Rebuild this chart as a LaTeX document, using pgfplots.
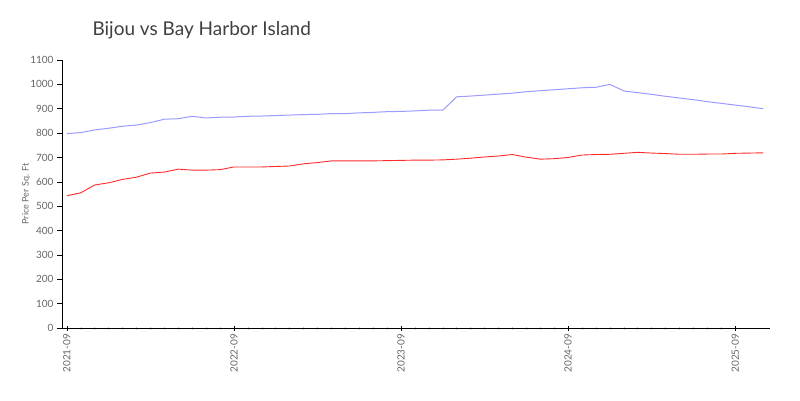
\documentclass[border=0pt]{standalone}
\usepackage{pgfplots}
\pgfplotsset{compat=1.18}
\usepackage{fontspec}
\setmainfont{Lato}
\definecolor{bluel}{HTML}{9A9AFF}
\definecolor{redl}{HTML}{FF2A2A}
\definecolor{tickgray}{HTML}{666666}
\begin{document}
\begin{tikzpicture}
\path[use as bounding box] (0pt,0pt) rectangle (800pt,400pt);
\node[anchor=west,font=\fontsize{19}{23}\selectfont,text=black!75] at (89pt,370pt) {Bijou vs Bay Harbor Island};
\begin{axis}[
  at={(62pt,72pt)}, anchor=south west,
  scale only axis, width=708pt, height=268pt,
  xmin=-0.35, xmax=50.5, ymin=0, ymax=1100,
  axis lines=left, axis line style={-, black, line width=0.8pt},
  ytick={0,100,...,1100},
  xtick={0,12,24,36,48},
  xticklabels={2021-09,2022-09,2023-09,2024-09,2025-09},
  minor x tick num=11,
  x tick label style={rotate=90, anchor=east, font=\fontsize{10}{12}\selectfont, text=tickgray},
  y tick label style={font=\fontsize{10}{12}\selectfont, text=tickgray},
  /pgf/number format/assume math mode=true,
  /pgf/number format/set thousands separator={},
  scaled y ticks=false,
  major tick length=5pt, minor tick length=3pt,
  xtick align=center, ytick align=outside,
  major tick style={black, line width=0.6pt},
  minor tick style={black!22, line width=0.5pt},
  ylabel={Price Per Sq. Ft},
  ylabel style={font=\fontsize{9}{11}\selectfont, text=tickgray, at={(axis description cs:-0.04,0.5)}},
  clip=false,
]
\addplot[bluel, line width=1pt] coordinates {
(0,798) (1,802) (2,813) (3,820) (4,828) (5,833) (6,843) (7,857) (8,859) (9,869)
(10,862) (11,865) (12,866) (13,869) (14,870) (15,872) (16,874) (17,876) (18,877) (19,880)
(20,880) (21,883) (22,885) (23,888) (24,889) (25,891) (26,894) (27,894) (28,949) (29,952)
(30,956) (31,960) (32,964) (33,970) (34,974) (35,978) (36,982) (37,986) (38,988) (39,1000)
(40,973) (41,966) (42,959) (43,951) (44,944) (45,937) (46,929) (47,922) (48,915) (49,908) (50,900)
};
\addplot[redl, line width=0.9pt] coordinates {
(0,543) (1,555) (2,587) (3,596) (4,610) (5,619) (6,636) (7,640) (8,652) (9,648)
(10,648) (11,650) (12,661) (13,661) (14,661) (15,663) (16,665) (17,674) (18,679) (19,686)
(20,686) (21,686) (22,686) (23,687) (24,688) (25,689) (26,689) (27,690) (28,693) (29,697)
(30,702) (31,706) (32,712) (33,701) (34,693) (35,695) (36,700) (37,710) (38,712) (39,713)
(40,717) (41,721) (42,718) (43,716) (44,713) (45,713) (46,714) (47,714) (48,717) (49,718) (50,719)
};
\end{axis}
\end{tikzpicture}
\end{document}
